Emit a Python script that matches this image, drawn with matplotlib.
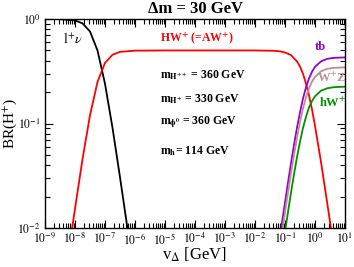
import matplotlib
matplotlib.use("Agg")
import matplotlib.pyplot as plt
import numpy as np

plt.rcParams['font.family'] = ['Liberation Serif', 'DejaVu Serif']
plt.rcParams['mathtext.fontset'] = 'stix'

# log10(v_Delta) positions and BR values
lnu_logv = [-9.0, -8.5, -8.0, -7.75, -7.5, -7.25, -7.0, -6.75, -6.5, -6.25, -6.2]
lnu_br = [1.0, 0.997, 0.969, 0.909, 0.76, 0.50, 0.24, 0.091, 0.0306, 0.0099, 0.0079]

hw_logv = [-8.3, -8.1, -8.0, -7.75, -7.5, -7.25, -7.0, -6.75, -6.5, -6.0, -5.0, -3.0,
           -2.0, -1.4, -1.2, -1.0, -0.8, -0.6, -0.5, -0.4, -0.3, -0.2, -0.1, 0.0,
           0.2, 0.4, 0.5, 0.6]
hw_br = [0.00395, 0.0098, 0.0153, 0.0455, 0.12, 0.25, 0.38, 0.455, 0.485, 0.498, 0.4999, 0.5,
         0.4999, 0.4966, 0.4916, 0.4789, 0.4516, 0.393, 0.351, 0.299, 0.241, 0.186, 0.136, 0.095,
         0.0428, 0.0179, 0.0115, 0.0073]

heavy_logv = [-1.2, -1.1, -1.0, -0.9, -0.8, -0.7, -0.6, -0.5, -0.4, -0.3, -0.2, -0.1,
              0.0, 0.2, 0.4, 0.6, 0.8, 1.0]
tb_br = [0.0072, 0.0113, 0.0175, 0.0272, 0.0416, 0.0624, 0.0912, 0.128, 0.173, 0.222, 0.270,
         0.313, 0.348, 0.393, 0.415, 0.424, 0.427, 0.429]
wz_br = [0.0058, 0.0090, 0.0141, 0.0218, 0.0334, 0.050, 0.0731, 0.103, 0.139, 0.178, 0.217,
         0.252, 0.279, 0.316, 0.333, 0.340, 0.343, 0.344]
hwp_br = [0.0038, 0.0059, 0.0092, 0.0142, 0.0218, 0.0326, 0.0477, 0.067, 0.0907, 0.116, 0.142,
          0.164, 0.182, 0.206, 0.217, 0.222, 0.224, 0.225]

xtick_exps = list(range(-9, 2))
ytick_exps = [-2, -1, 0]

W, H = 354, 267
fig = plt.figure(figsize=(W/100, H/100), dpi=100)
ax = fig.add_axes([45/W, 1-228/H, 300/W, 209/H])

lw = 1.3
ax.plot(10**np.array(lnu_logv), lnu_br, color='black', lw=lw)
ax.plot(10**np.array(hw_logv), hw_br, color='red', lw=lw)
ax.plot(10**np.array(heavy_logv), tb_br, color='#9400D3', lw=lw)
ax.plot(10**np.array(heavy_logv), wz_br, color='#BC8F8F', lw=lw)
ax.plot(10**np.array(heavy_logv), hwp_br, color='#009000', lw=lw)

ax.set_xscale('log')
ax.set_yscale('log')
ax.set_xlim(1e-9, 1e1)
ax.set_ylim(1e-2, 1e0)
ax.set_xticks([10.0**e for e in xtick_exps])
ax.set_xticklabels([r'$10^{%d}$' % e for e in xtick_exps])
ax.set_yticks([10.0**e for e in ytick_exps])
ax.set_yticklabels([r'$10^{%d}$' % e for e in ytick_exps])
ax.xaxis.set_minor_locator(matplotlib.ticker.LogLocator(base=10, subs=np.arange(2, 10), numticks=20))
ax.yaxis.set_minor_locator(matplotlib.ticker.LogLocator(base=10, subs=np.arange(2, 10), numticks=20))
ax.xaxis.set_minor_formatter(matplotlib.ticker.NullFormatter())
ax.yaxis.set_minor_formatter(matplotlib.ticker.NullFormatter())
ax.tick_params(which='both', direction='in', top=True, right=True, labelsize=8.5, width=0.8)
ax.tick_params(which='major', length=6, pad=3)
ax.tick_params(which='minor', length=3.5)
for s in ax.spines.values():
    s.set_linewidth(1.0)

ax.set_xlabel(r'v$_{\Delta}$ [GeV]', fontsize=12)
ax.xaxis.set_label_coords(0.5, -0.085)
ax.set_ylabel(r'BR(H$^{+}$)', fontsize=11)
ax.yaxis.set_label_coords(-0.085, 0.5)

fig.text(196/W, 1-9/H, 'Δm = 30 GeV', ha='center', va='center', fontsize=12, fontweight='bold')


def place(px, py, s, **kw):
    fig.text(px/W, 1-py/H, s, **kw)


place(63, 40, r'l$^{+}$$\nu$', fontsize=10, ha='left', va='center')
place(197, 39, r'HW$^{\mathbf{+}}$ (=AW$^{\mathbf{+}}$)', fontsize=8.5,
      fontweight='bold', color='red', ha='center', va='center')
place(160, 78, r'm$_{\mathbf{H^{++}}}$ = 360 GeV', fontsize=8.5, fontweight='bold', ha='left', va='baseline')
place(160, 102, r'm$_{\mathbf{H^{+}}}$ = 330 GeV', fontsize=8.5, fontweight='bold', ha='left', va='baseline')
place(160, 125, r'm$_{\mathbf{\phi^{0}}}$ = 360 GeV', fontsize=8.5, fontweight='bold', ha='left', va='baseline')
place(160, 154, r'm$_{\mathbf{h}}$= 114 GeV', fontsize=8.5, fontweight='bold', ha='left', va='baseline')

place(315, 47, 'tb', fontsize=9, fontweight='bold', color='#9400D3', ha='left', va='center')
place(317, 78, r'W$^{\mathbf{+}}$Z', fontsize=9, fontweight='bold', color='#BC8F8F', ha='left', va='center')
place(319, 103, r'hW$^{\mathbf{+}}$', fontsize=9, fontweight='bold', color='#009000', ha='left', va='center')

fig.savefig('out.png', dpi=100)
